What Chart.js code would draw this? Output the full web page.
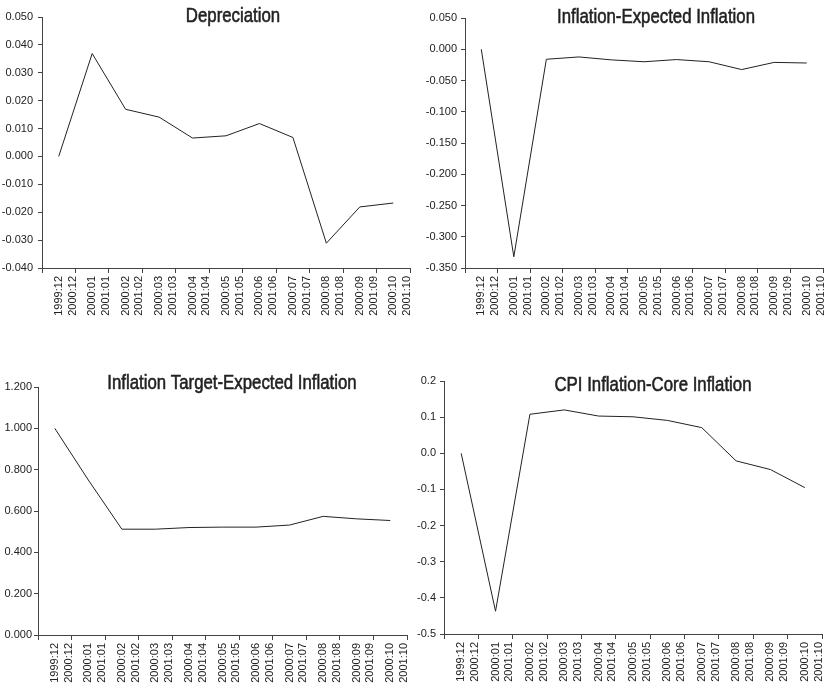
<!DOCTYPE html>
<html>
<head>
<meta charset="utf-8">
<script src="https://cdn.jsdelivr.net/npm/chart.js@4/dist/chart.umd.min.js"></script>
<style>
  html, body { margin: 0; padding: 0; background: #fff; }
  body { width: 824px; height: 684px; position: relative; overflow: hidden; }
  .panel { position: absolute; width: 412px; height: 342px; }
</style>
</head>
<body>
<div class="panel" style="left:0;top:0"><canvas id="c1"></canvas></div>
<div class="panel" style="left:412px;top:0"><canvas id="c2"></canvas></div>
<div class="panel" style="left:0;top:342px"><canvas id="c3"></canvas></div>
<div class="panel" style="left:412px;top:342px"><canvas id="c4"></canvas></div>
<script>
// ---- data ----
const categories = [
  ["1999:12", "2000:12"],
  ["2000:01", "2001:01"],
  ["2000:02", "2001:02"],
  ["2000:03", "2001:03"],
  ["2000:04", "2001:04"],
  ["2000:05", "2001:05"],
  ["2000:06", "2001:06"],
  ["2000:07", "2001:07"],
  ["2000:08", "2001:08"],
  ["2000:09", "2001:09"],
  ["2000:10", "2001:10"]
];
const depreciation = [0.000, 0.0369, 0.0169, 0.0141, 0.0066, 0.0074, 0.0118, 0.0068, -0.0311, -0.0181, -0.0167];
const inflationMinusExpected = [0.000, -0.332, -0.016, -0.0123, -0.017, -0.020, -0.0165, -0.020, -0.0325, -0.021, -0.022];
const targetMinusExpected = [1.000, 0.750, 0.512, 0.512, 0.520, 0.522, 0.522, 0.532, 0.574, 0.562, 0.554];
const cpiMinusCore = [0.000, -0.437, 0.108, 0.120, 0.103, 0.101, 0.091, 0.071, -0.021, -0.045, -0.095];

const titles = ["Depreciation", "Inflation-Expected Inflation", "Inflation Target-Expected Inflation", "CPI Inflation-Core Inflation"];

// ---- chart builder ----
const FONT = "'Liberation Sans', Arial, sans-serif";
const TITLE_FONT = "'Liberation Sans', Arial, sans-serif";
const TITLE_SQUEEZE = 0.8;

const panelTitle = {
  id: 'panelTitle',
  afterDraw(chart, args, opts) {
    const ctx = chart.ctx;
    ctx.save();
    ctx.translate(opts.x, opts.y);
    ctx.scale(TITLE_SQUEEZE, 1);
    ctx.font = "21px " + TITLE_FONT;
    ctx.fillStyle = '#222';
    ctx.strokeStyle = '#222';
    ctx.lineWidth = 0.6;
    ctx.textAlign = 'center';
    ctx.textBaseline = 'alphabetic';
    ctx.fillText(opts.text, 0, 0);
    ctx.strokeText(opts.text, 0, 0);
    ctx.restore();
  }
};

function makeChart(id, values, title, yCfg, layout) {
  const fmt = (v) => (Math.abs(v) < 1e-9 ? 0 : v).toFixed(yCfg.decimals);
  return new Chart(document.getElementById(id), {
    type: 'line',
    data: {
      labels: categories,
      datasets: [{
        data: values,
        borderColor: '#222',
        borderWidth: 1,
        pointRadius: 0,
        tension: 0,
        fill: false
      }]
    },
    options: {
      responsive: false,
      animation: false,
      devicePixelRatio: 1,
      layout: { padding: { top: layout.top, right: layout.right, left: 0, bottom: 0 } },
      plugins: {
        legend: { display: false },
        tooltip: { enabled: false },
        panelTitle: { text: title, x: layout.titleX, y: layout.titleY }
      },
      scales: {
        x: {
          type: 'category',
          offset: true,
          grid: { offset: true, drawOnChartArea: false, drawTicks: true, tickLength: 5, color: '#444' },
          border: { color: '#444', width: 1 },
          ticks: {
            autoSkip: false, maxRotation: 90, minRotation: 90, padding: 3,
            color: '#222', font: { family: FONT, size: 11, lineHeight: 1.25 }
          },
          afterFit(scale) {
            scale.height = layout.xHeight;
            scale.paddingLeft = 0;
            scale.paddingRight = 0;
          }
        },
        y: {
          min: yCfg.min, max: yCfg.max,
          grid: { drawOnChartArea: false, drawTicks: true, tickLength: 4, color: '#444' },
          border: { color: '#444', width: 1 },
          ticks: {
            stepSize: yCfg.step, padding: layout.yPad, color: '#222',
            font: { family: FONT, size: 11 },
            callback: (v) => fmt(v)
          },
          afterFit(scale) { scale.width = layout.yWidth; }
        }
      }
    },
    plugins: [panelTitle]
  });
}

['c1','c2','c3','c4'].forEach(id => {
  const c = document.getElementById(id);
  c.width = 412; c.height = 342;
  c.style.width = '412px'; c.style.height = '342px';
});

makeChart('c1', depreciation, titles[0],
  { min: -0.04, max: 0.05, step: 0.01, decimals: 3 },
  { top: 17, right: 2, yWidth: 42, xHeight: 74, yPad: 5, titleX: 233, titleY: 22 });

makeChart('c2', inflationMinusExpected, titles[1],
  { min: -0.35, max: 0.05, step: 0.05, decimals: 3 },
  { top: 18, right: 1, yWidth: 53, xHeight: 74, yPad: 4, titleX: 244, titleY: 23 });

makeChart('c3', targetMinusExpected, titles[2],
  { min: 0, max: 1.2, step: 0.2, decimals: 3 },
  { top: 45, right: 5, yWidth: 38, xHeight: 49, yPad: 2, titleX: 232, titleY: 47 });

makeChart('c4', cpiMinusCore, titles[3],
  { min: -0.5, max: 0.2, step: 0.1, decimals: 1 },
  { top: 39, right: 2, yWidth: 32, xHeight: 50, yPad: 4, titleX: 241, titleY: 49 });
</script>
</body>
</html>
